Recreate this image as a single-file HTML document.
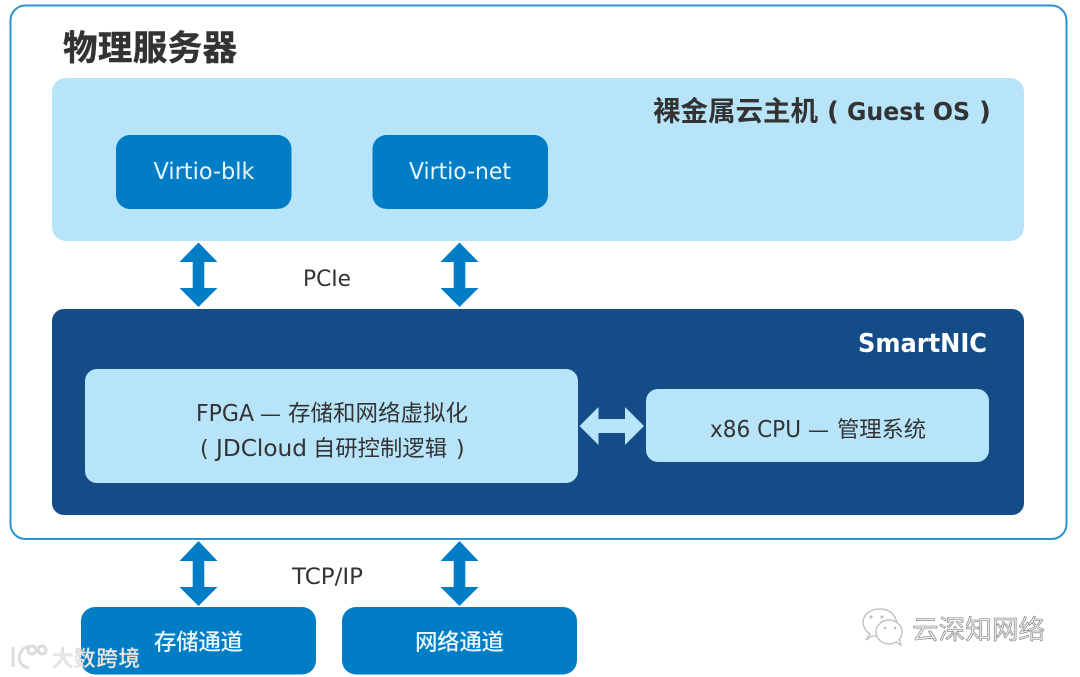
<!DOCTYPE html>
<html><head><meta charset="utf-8">
<style>
html,body{margin:0;padding:0;background:#fff;width:1080px;height:677px;overflow:hidden}
svg{display:block}
text{font-family:"DejaVu Sans","Noto Sans CJK SC",sans-serif}
.cjk{font-family:"Noto Sans CJK SC",sans-serif}
</style></head><body>
<svg width="1080" height="677" viewBox="0 0 1080 677" xmlns="http://www.w3.org/2000/svg">
<rect width="1080" height="677" fill="#fff"/>
<rect x="10.500" y="5.500" width="1056" height="533.500" rx="15" fill="#fff" stroke="#2b93cf" stroke-width="2"/>
<text x="63" y="60" class="cjk" font-size="34.500" font-weight="700" fill="#333" stroke="#333" stroke-width="0.500" textLength="174">物理服务器</text>

<rect x="52" y="78" width="972" height="163" rx="14" fill="#b8e4fa"/>
<text x="653" y="120.500" class="cjk" font-size="27.500" font-weight="700" fill="#333" textLength="165">裸金属云主机</text>
<text x="827" y="120" font-size="26" font-weight="700" fill="#333">(</text>
<text x="847" y="120" font-size="25" font-weight="700" fill="#333" textLength="123" lengthAdjust="spacingAndGlyphs">Guest OS</text>
<text x="979" y="120" font-size="26" font-weight="700" fill="#333">)</text>
<rect x="116" y="135" width="175.500" height="74" rx="14" fill="#007dc5"/>
<rect x="372.500" y="135" width="175.500" height="74" rx="14" fill="#007dc5"/>
<text x="153.500" y="179" font-size="23" fill="#e8f6ff" textLength="101" lengthAdjust="spacingAndGlyphs">Virtio-blk</text>
<text x="409" y="179" font-size="23" fill="#e8f6ff" textLength="102" lengthAdjust="spacingAndGlyphs">Virtio-net</text>

<path d="M198.500 242.500L217.500 262H204.300V288H217.500L198.500 307L179.500 288H192.700V262H179.500Z" fill="#007dc5"/>
<path d="M459.500 242.500L478.500 262H465.300V288H478.500L459.500 307L440.500 288H453.700V262H440.500Z" fill="#007dc5"/>
<text x="303" y="286" font-size="22.500" fill="#333" textLength="48" lengthAdjust="spacingAndGlyphs">PCIe</text>

<rect x="52" y="309" width="972" height="206" rx="12" fill="#134c87"/>
<text x="858" y="352" font-size="26" font-weight="700" fill="#fff" textLength="129" lengthAdjust="spacingAndGlyphs">SmartNIC</text>
<rect x="85" y="369" width="493" height="114" rx="12" fill="#b8e4fa"/>
<rect x="646" y="389" width="343" height="73" rx="12" fill="#b8e4fa"/>

<text x="196" y="421" font-size="23" fill="#333" textLength="58" lengthAdjust="spacingAndGlyphs">FPGA</text>
<text x="260" y="421" font-size="21" fill="#333" textLength="21" lengthAdjust="spacingAndGlyphs">—</text>
<text x="288" y="421" class="cjk" font-size="22.500" fill="#333" textLength="180">存储和网络虚拟化</text>

<text x="200" y="456" font-size="22" fill="#333">(</text>
<text x="216" y="456" font-size="23" fill="#333" textLength="91" lengthAdjust="spacingAndGlyphs">JDCloud</text>
<text x="313" y="456" class="cjk" font-size="22.300" fill="#333" textLength="134">自研控制逻辑</text>
<text x="456" y="456" font-size="22" fill="#333">)</text>

<text x="710" y="437" font-size="23" fill="#333" textLength="91" lengthAdjust="spacingAndGlyphs">x86 CPU</text>
<text x="808" y="437" font-size="21" fill="#333" textLength="21" lengthAdjust="spacingAndGlyphs">—</text>
<text x="837" y="437" class="cjk" font-size="22.300" fill="#333" textLength="89">管理系统</text>

<path d="M579.500 426L598.500 407V419H625V407L644 426L625 445V433H598.500V445Z" fill="#b8e4fa"/>

<path d="M198.500 541L217.500 561H204.300V587H217.500L198.500 606L179.500 587H192.700V561H179.500Z" fill="#007dc5"/>
<path d="M459.500 541L478.500 561H465.300V587H478.500L459.500 606L440.500 587H453.700V561H440.500Z" fill="#007dc5"/>
<text x="292" y="584" font-size="22.500" fill="#333" textLength="71" lengthAdjust="spacingAndGlyphs">TCP/IP</text>

<rect x="81" y="607" width="235" height="67.500" rx="14" fill="#007dc5"/>
<rect x="342" y="607" width="235" height="67.500" rx="14" fill="#007dc5"/>
<text x="154" y="650" class="cjk" font-size="22.500" font-weight="500" fill="#e8f6ff" textLength="89">存储通道</text>
<text x="415" y="650" class="cjk" font-size="22.500" font-weight="500" fill="#e8f6ff" textLength="89">网络通道</text>

<!-- watermark left -->
<g fill="none" stroke="#dcdcdc" stroke-width="3">
<path d="M13 647V667"/><path d="M29 646C16 650 16 666 29 668"/>
<circle cx="32" cy="650" r="4"/><circle cx="42" cy="650" r="4"/>
</g>
<text x="52" y="666" class="cjk" font-size="21.500" font-weight="500" fill="#eaeaea" stroke="#bdbdbd" stroke-width="0.300" textLength="88">大数跨境</text>

<!-- watermark right -->
<g fill="#fff" stroke="#b8b8b8" stroke-width="1.200">
<path d="M872 636L866 640L870 634C858 626 862 609 880 609C890 609 896 615 897 624C890 634 880 637 872 636Z"/>
<ellipse cx="889" cy="632" rx="13" ry="12"/>
<path d="M896 642L901 645L899 639" />
</g>
<g fill="#bbb"><circle cx="871" cy="617" r="1.500"/><circle cx="882" cy="617" r="1.500"/><circle cx="885" cy="628" r="1.300"/><circle cx="895" cy="628" r="1.300"/></g>
<text x="912" y="639" class="cjk" font-size="26.500" fill="#eee" stroke="#777" stroke-width="0.600" textLength="133">云深知网络</text>
</svg>
</body></html>
